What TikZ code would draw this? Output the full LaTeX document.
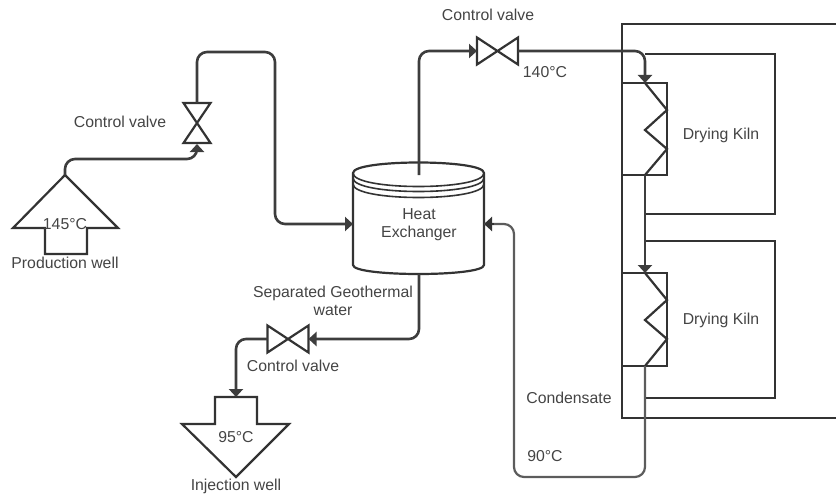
\documentclass[tikz,border=0pt]{standalone}
\usepackage{fontspec}
\setmainfont{Liberation Sans}
\usetikzlibrary{arrows.meta}
\definecolor{ink}{HTML}{333333}
\definecolor{label}{HTML}{444444}
\tikzset{
  x=1pt,y=-1pt,
  shapeline/.style={draw=ink,line width=2.2pt,line join=miter},
  pipe/.style={draw=ink!95!white,line width=2.6pt,rounded corners=10pt},
  tipped/.style={pipe,-{Triangle[width=14pt,length=8pt]}},
  txt/.style={text=label,font=\fontsize{15.8}{18}\selectfont,inner sep=0pt,align=center},
  vv/.style={inner sep=0pt,outer sep=0pt,minimum width=27pt,minimum height=40pt},
  hv/.style={inner sep=0pt,outer sep=0pt,minimum width=41pt,minimum height=27pt},
}
\begin{document}
\begin{tikzpicture}
\useasboundingbox (0,0) rectangle (836,495);
% outer building
\draw[shapeline] (836,24) -- (622,24) -- (622,418) -- (836,418);
% kilns
\coordinate (k1a) at (645,54); \coordinate (k1b) at (775,54);
\coordinate (k1c) at (775,214); \coordinate (k1d) at (645,214);
\draw[shapeline] (k1a) -- (k1b) -- (k1c) -- (k1d);
\coordinate (k2a) at (645,241); \coordinate (k2b) at (775,241);
\coordinate (k2c) at (775,398); \coordinate (k2d) at (645,398);
\draw[shapeline] (k2a) -- (k2b) -- (k2c) -- (k2d);
\node[txt] (kiln1) at (721,135) {Drying Kiln};
\node[txt] (kiln2) at (721,320) {Drying Kiln};
% coils
\coordinate (h1in) at (645,83); \coordinate (h1out) at (645,175);
\coordinate (h2in) at (645,273); \coordinate (h2out) at (645,366);
\draw[shapeline] (622,83) rectangle (667,175);
\draw[shapeline] (622,273) rectangle (667,366);
\draw[shapeline] (h1in) -- (667,110) -- (645,130) -- (667,149) -- (h1out);
\draw[shapeline] (h2in) -- (667,300) -- (645,320) -- (667,339) -- (h2out);
% production well
\coordinate (pw) at (65,175);
\draw[shapeline] (pw) -- (118,228) -- (87,228) -- (87,254) -- (45,254) -- (45,228) -- (13,228) -- cycle;
% injection well
\coordinate (iw) at (236,397);
\draw[shapeline] (215,397) -- (257,397) -- (257,424) -- (289,424) -- (236,477) -- (182,424) -- (215,424) -- cycle;
% valves
\node[vv] (v1) at (197,123) {};
\draw[shapeline] (v1.north west) -- (v1.north east) -- (v1.south west) -- (v1.south east) -- cycle;
\node[hv] (v2) at (497.5,51) {};
\draw[shapeline] (v2.north west) -- (v2.south east) -- (v2.north east) -- (v2.south west) -- cycle;
\node[hv] (v3) at (288,339) {};
\draw[shapeline] (v3.north west) -- (v3.south east) -- (v3.north east) -- (v3.south west) -- cycle;
% heat exchanger
\coordinate (hxl) at (353,173); \coordinate (hxr) at (484,173);
\draw[shapeline] (hxl) .. controls (353,159) and (484,159) .. (hxr)
  -- (484,265) .. controls (484,277) and (353,277) .. (353,265) -- cycle;
\draw[shapeline,line width=1.6pt] (hxl) .. controls (353,191) and (484,191) .. (hxr);
\draw[shapeline,line width=1.6pt] (353,178) .. controls (353,196) and (484,196) .. (484,178);
\draw[shapeline,line width=1.6pt] (353,184) .. controls (353,202) and (484,202) .. (484,184);
\node[txt] (hxtext) at (419,225) {Heat\\Exchanger};
\coordinate (hxw) at (353,224); \coordinate (hxe) at (484,224);
\coordinate (hxt) at (419,175); \coordinate (hxb) at (419,274);
% connectors
\coordinate (v1in) at (197,144);
\draw[tipped] (pw) -- (65,159) -- (197,159) -- (v1in);
\draw[tipped] (v1.north) -- (197,52) -- (275,52) -- (275,224) -- (hxw);
\draw[tipped] (hxt) -- (419,51) -- (v2.west);
\draw[tipped] (v2.east) -- (645,51) -- (h1in);
\draw[tipped] (h1out) -- (h2in);
\draw[pipe,draw=ink!80!white,line width=2.2pt] (h2out) -- (645,477) -- (514,477) -- (514,224) -- (hxe);
\draw[-{Triangle[width=14pt,length=8pt]},draw=ink,line width=2.2pt] (494,224) -- (hxe);
\draw[tipped] (hxb) -- (419,339) -- (v3.east);
\draw[tipped] (v3.west) -- (236,339) -- (iw);
% labels
\node[txt] (l1) at (120,122) {Control valve};
\node[txt] (l2) at (488,15) {Control valve};
\node[txt] (l3) at (293,366) {Control valve};
\node[txt] (t145) at (65,224) {145°C};
\node[txt] (prod) at (65,263) {Production well};
\node[txt] (t140) at (545,72) {140°C};
\node[txt] (cond) at (569,398) {Condensate};
\node[txt] (t90) at (545,456) {90°C};
\node[txt] (sep) at (333,301) {Separated Geothermal\\water};
\node[txt] (t95) at (236,437) {95°C};
\node[txt] (inj) at (236,486) {Injection well};
\end{tikzpicture}
\end{document}
